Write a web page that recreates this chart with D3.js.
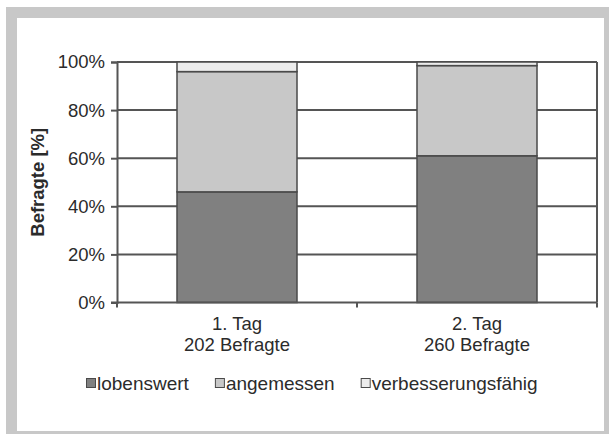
<!DOCTYPE html>
<html>
<head>
<meta charset="utf-8">
<script src="https://cdn.jsdelivr.net/npm/d3@7"></script>
<style>
  html, body { margin: 0; padding: 0; background: #fff; }
  svg { display: block; font-family: "Liberation Sans", Arial, sans-serif; }
</style>
</head>
<body>
<svg id="chart" width="609" height="434"></svg>
<script>
// Survey days and respondent counts
const days = ["1. Tag", "2. Tag"];
const respondents = ["202 Befragte", "260 Befragte"];

// Share of answers per rating (percent)
const ratings = ["lobenswert", "angemessen", "verbesserungsfähig"];
const lobenswert = [46, 61];
const angemessen = [50, 37.5];
const verbesserungsfaehig = [4, 1.5];

const yTicks = [0, 20, 40, 60, 80, 100];
const ratingColors = ["#808080", "#c8c8c8", "#ececec"];

const svg = d3.select("#chart");
const W = 609, H = 434;

// Grey frame around the figure
svg.append("rect").attr("x", 6).attr("y", 7).attr("width", W - 6).attr("height", H - 7).attr("fill", "#c8c8c8");
svg.append("rect").attr("x", 17).attr("y", 18).attr("width", 587).attr("height", 413).attr("fill", "#fff");

const plot = { left: 117, right: 597, top: 62, bottom: 302.5 };
const ink = "#2b2b2b";
const lineCol = "#555";

const x = d3.scaleBand().domain(days).range([plot.left, plot.right]).paddingInner(0.5).paddingOuter(0.25);
const y = d3.scaleLinear().domain([0, 100]).range([plot.bottom, plot.top]);
const color = d3.scaleOrdinal().domain(ratings).range(ratingColors);

// Horizontal gridlines
svg.append("g").selectAll("line").data(yTicks.filter(t => t > 0)).join("line")
  .attr("x1", plot.left).attr("x2", plot.right)
  .attr("y1", d => y(d)).attr("y2", d => y(d))
  .attr("stroke", lineCol).attr("stroke-width", 2);

// Right border of the plot area
svg.append("line").attr("x1", plot.right).attr("x2", plot.right)
  .attr("y1", y(100)).attr("y2", y(0)).attr("stroke", lineCol).attr("stroke-width", 2);

// Stacked bars
const rows = days.map((d, i) => ({
  day: d,
  lobenswert: lobenswert[i],
  angemessen: angemessen[i],
  "verbesserungsfähig": verbesserungsfaehig[i]
}));
const series = d3.stack().keys(ratings)(rows);

svg.append("g").selectAll("g").data(series).join("g")
  .attr("fill", s => color(s.key))
  .selectAll("rect").data(s => s).join("rect")
  .attr("x", d => x(d.data.day))
  .attr("width", x.bandwidth())
  .attr("y", d => y(d[1]))
  .attr("height", d => y(d[0]) - y(d[1]))
  .attr("stroke", "#4a4a4a").attr("stroke-width", 1.5);

// Y axis
const yAxis = svg.append("g").attr("transform", `translate(${plot.left},0)`)
  .call(d3.axisLeft(y).tickValues(yTicks).tickFormat(d => d + "%").tickSize(6).tickPadding(6));
yAxis.select(".domain").attr("stroke", lineCol).attr("stroke-width", 2);
yAxis.selectAll(".tick line").attr("stroke", lineCol).attr("stroke-width", 2);
yAxis.selectAll(".tick text").attr("fill", ink).attr("font-size", 18.5).attr("font-family", "Liberation Sans, Arial, sans-serif");

// X axis baseline with tick marks at the category boundaries
const xAxis = svg.append("g").attr("transform", `translate(0,${plot.bottom})`);
xAxis.append("line").attr("x1", plot.left - 6).attr("x2", plot.right)
  .attr("stroke", lineCol).attr("stroke-width", 2);
const step = x.step();
const bounds = [plot.left, plot.left + step, plot.left + 2 * step];
xAxis.selectAll("line.tk").data(bounds).join("line").attr("class", "tk")
  .attr("x1", d => d).attr("x2", d => d).attr("y1", 0).attr("y2", 5)
  .attr("stroke", lineCol).attr("stroke-width", 2);

// Category labels (two lines)
const cat = svg.append("g").selectAll("text").data(days).join("text")
  .attr("text-anchor", "middle").attr("fill", ink).attr("font-size", 18.5)
  .attr("x", d => x(d) + x.bandwidth() / 2);
cat.append("tspan").attr("x", d => x(d) + x.bandwidth() / 2).attr("y", 330).text(d => d);
cat.append("tspan").attr("x", d => x(d) + x.bandwidth() / 2).attr("y", 351).text((d, i) => respondents[i]);

// Y axis title
svg.append("text")
  .attr("transform", `translate(44,${(plot.top + plot.bottom) / 2}) rotate(-90)`)
  .attr("text-anchor", "middle").attr("fill", ink).attr("font-size", 18.5).attr("font-weight", "bold")
  .text("Befragte [%]");

// Legend
const legend = svg.append("g");
let lx = 86;
ratings.forEach(r => {
  legend.append("rect").attr("x", lx + 0.5).attr("y", 378.5).attr("width", 9).attr("height", 9)
    .attr("fill", color(r)).attr("stroke", "#4a4a4a").attr("stroke-width", 1);
  const t = legend.append("text").attr("x", lx + 11).attr("y", 389.5)
    .attr("fill", ink).attr("font-size", 19).text(r);
  lx += 11 + t.node().getComputedTextLength() + 26;
});
</script>
</body>
</html>
